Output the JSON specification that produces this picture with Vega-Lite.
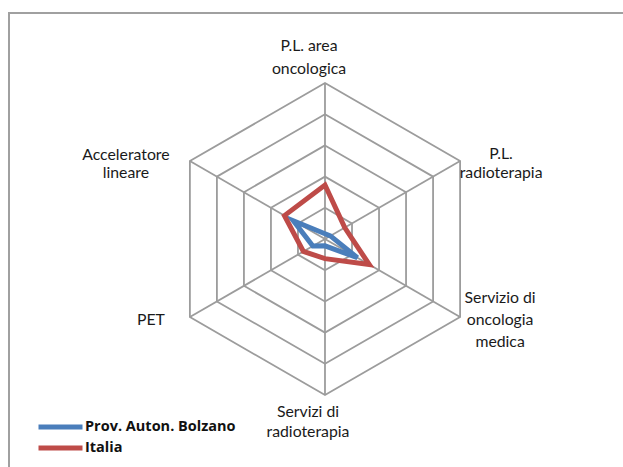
{
  "$schema": "https://vega.github.io/schema/vega-lite/v6.json",
  "width": 620,
  "height": 460,
  "autosize": {"type": "none"},
  "padding": {"left": 9, "top": 13, "right": 0, "bottom": 0},
  "background": "white",
  "config": {
    "view": {"stroke": "#a0a0a0", "strokeWidth": 2},
    "font": "Lato",
    "text": {"font": "Lato", "fontSize": 15.8, "color": "#1a1a1a", "lineBreak": "\n", "lineHeight": 21}
  },
  "datasets": {
    "series": [
      {"serie": "Prov. Auton. Bolzano", "k": 0, "v": 0.17},
      {"serie": "Prov. Auton. Bolzano", "k": 1, "v": 0.2},
      {"serie": "Prov. Auton. Bolzano", "k": 2, "v": 1.2},
      {"serie": "Prov. Auton. Bolzano", "k": 3, "v": 0.22},
      {"serie": "Prov. Auton. Bolzano", "k": 4, "v": 0.45},
      {"serie": "Prov. Auton. Bolzano", "k": 5, "v": 1.17},
      {"serie": "Italia", "k": 0, "v": 1.73},
      {"serie": "Italia", "k": 1, "v": 0.73},
      {"serie": "Italia", "k": 2, "v": 1.64},
      {"serie": "Italia", "k": 3, "v": 0.63},
      {"serie": "Italia", "k": 4, "v": 0.8},
      {"serie": "Italia", "k": 5, "v": 1.5}
    ],
    "axes": [
      {"k": 0, "label": "P.L. area\noncologica"},
      {"k": 1, "label": "P.L.\nradioterapia"},
      {"k": 2, "label": "Servizio di\noncologia\nmedica"},
      {"k": 3, "label": "Servizi di\nradioterapia"},
      {"k": 4, "label": "PET"},
      {"k": 5, "label": "Acceleratore\nlineare"}
    ],
    "rings": [
      {"level": 1, "k": [0, 1, 2, 3, 4, 5]},
      {"level": 2, "k": [0, 1, 2, 3, 4, 5]},
      {"level": 3, "k": [0, 1, 2, 3, 4, 5]},
      {"level": 4, "k": [0, 1, 2, 3, 4, 5]},
      {"level": 5, "k": [0, 1, 2, 3, 4, 5]}
    ]
  },
  "layer": [
    {
      "data": {"name": "rings"},
      "transform": [
        {"flatten": ["k"]},
        {"calculate": "datum.level * sin(datum.k * PI / 3)", "as": "px"},
        {"calculate": "datum.level * cos(datum.k * PI / 3)", "as": "py"}
      ],
      "mark": {"type": "line", "interpolate": "linear-closed", "stroke": "#9c9c9c", "strokeWidth": 1.8},
      "encoding": {
        "x": {"field": "px", "type": "quantitative", "scale": {"domain": [-10.128, 9.744], "nice": false, "zero": false}, "axis": null},
        "y": {"field": "py", "type": "quantitative", "scale": {"domain": [-7.5, 7.244], "nice": false, "zero": false}, "axis": null},
        "detail": {"field": "level"},
        "order": {"field": "k"}
      }
    },
    {
      "data": {"name": "axes"},
      "transform": [
        {"calculate": "5 * sin(datum.k * PI / 3)", "as": "px"},
        {"calculate": "5 * cos(datum.k * PI / 3)", "as": "py"},
        {"calculate": "0", "as": "cx"},
        {"calculate": "0", "as": "cy"}
      ],
      "mark": {"type": "rule", "stroke": "#9c9c9c", "strokeWidth": 1.8},
      "encoding": {
        "x": {"field": "cx", "type": "quantitative"},
        "y": {"field": "cy", "type": "quantitative"},
        "x2": {"field": "px"},
        "y2": {"field": "py"}
      }
    },
    {
      "data": {"name": "series"},
      "transform": [
        {"calculate": "datum.v * sin(datum.k * PI / 3)", "as": "px"},
        {"calculate": "datum.v * cos(datum.k * PI / 3)", "as": "py"}
      ],
      "mark": {"type": "line", "interpolate": "linear-closed", "strokeWidth": 5, "strokeJoin": "miter", "strokeCap": "round"},
      "encoding": {
        "x": {"field": "px", "type": "quantitative"},
        "y": {"field": "py", "type": "quantitative"},
        "order": {"field": "k"},
        "color": {
          "field": "serie",
          "type": "nominal",
          "scale": {"domain": ["Prov. Auton. Bolzano", "Italia"], "range": ["#4a7ebb", "#be4b48"]},
          "legend": {
            "title": null,
            "orient": "none",
            "legendX": 60,
            "legendY": 406,
            "symbolType": "M-7,0H1",
            "symbolSize": 121,
            "symbolStrokeWidth": 5,
            "labelFont": "Open Sans",
            "labelFontWeight": "bold",
            "labelFontSize": 14.5,
            "labelColor": "#111111",
            "labelOffset": 0,
            "rowPadding": 1
          }
        }
      }
    },
    {
      "data": {"name": "axes"},
      "transform": [
        {"filter": "datum.k == 0"},
        {"calculate": "5 * sin(datum.k * PI / 3)", "as": "px"},
        {"calculate": "5 * cos(datum.k * PI / 3)", "as": "py"}
      ],
      "mark": {"type": "text", "align": "center", "baseline": "middle", "dx": -16, "dy": -37, "lineHeight": 23},
      "encoding": {
        "x": {"field": "px", "type": "quantitative"},
        "y": {"field": "py", "type": "quantitative"},
        "text": {"field": "label"}
      }
    },
    {
      "data": {"name": "axes"},
      "transform": [
        {"filter": "datum.k == 1"},
        {"calculate": "5 * sin(datum.k * PI / 3)", "as": "px"},
        {"calculate": "5 * cos(datum.k * PI / 3)", "as": "py"}
      ],
      "mark": {"type": "text", "align": "center", "baseline": "middle", "dx": 41, "dy": -7, "lineHeight": 19},
      "encoding": {
        "x": {"field": "px", "type": "quantitative"},
        "y": {"field": "py", "type": "quantitative"},
        "text": {"field": "label"}
      }
    },
    {
      "data": {"name": "axes"},
      "transform": [
        {"filter": "datum.k == 2"},
        {"calculate": "5 * sin(datum.k * PI / 3)", "as": "px"},
        {"calculate": "5 * cos(datum.k * PI / 3)", "as": "py"}
      ],
      "mark": {"type": "text", "align": "center", "baseline": "middle", "dx": 40, "dy": -19, "lineHeight": 22},
      "encoding": {
        "x": {"field": "px", "type": "quantitative"},
        "y": {"field": "py", "type": "quantitative"},
        "text": {"field": "label"}
      }
    },
    {
      "data": {"name": "axes"},
      "transform": [
        {"filter": "datum.k == 3"},
        {"calculate": "5 * sin(datum.k * PI / 3)", "as": "px"},
        {"calculate": "5 * cos(datum.k * PI / 3)", "as": "py"}
      ],
      "mark": {"type": "text", "align": "center", "baseline": "middle", "dx": -17, "dy": 17, "lineHeight": 20},
      "encoding": {
        "x": {"field": "px", "type": "quantitative"},
        "y": {"field": "py", "type": "quantitative"},
        "text": {"field": "label"}
      }
    },
    {
      "data": {"name": "axes"},
      "transform": [
        {"filter": "datum.k == 4"},
        {"calculate": "5 * sin(datum.k * PI / 3)", "as": "px"},
        {"calculate": "5 * cos(datum.k * PI / 3)", "as": "py"}
      ],
      "mark": {"type": "text", "align": "center", "baseline": "middle", "dx": -39, "dy": 3},
      "encoding": {
        "x": {"field": "px", "type": "quantitative"},
        "y": {"field": "py", "type": "quantitative"},
        "text": {"field": "label"}
      }
    },
    {
      "data": {"name": "axes"},
      "transform": [
        {"filter": "datum.k == 5"},
        {"calculate": "5 * sin(datum.k * PI / 3)", "as": "px"},
        {"calculate": "5 * cos(datum.k * PI / 3)", "as": "py"}
      ],
      "mark": {"type": "text", "align": "center", "baseline": "middle", "dx": -64, "dy": -6, "lineHeight": 18},
      "encoding": {
        "x": {"field": "px", "type": "quantitative"},
        "y": {"field": "py", "type": "quantitative"},
        "text": {"field": "label"}
      }
    }
  ]
}
